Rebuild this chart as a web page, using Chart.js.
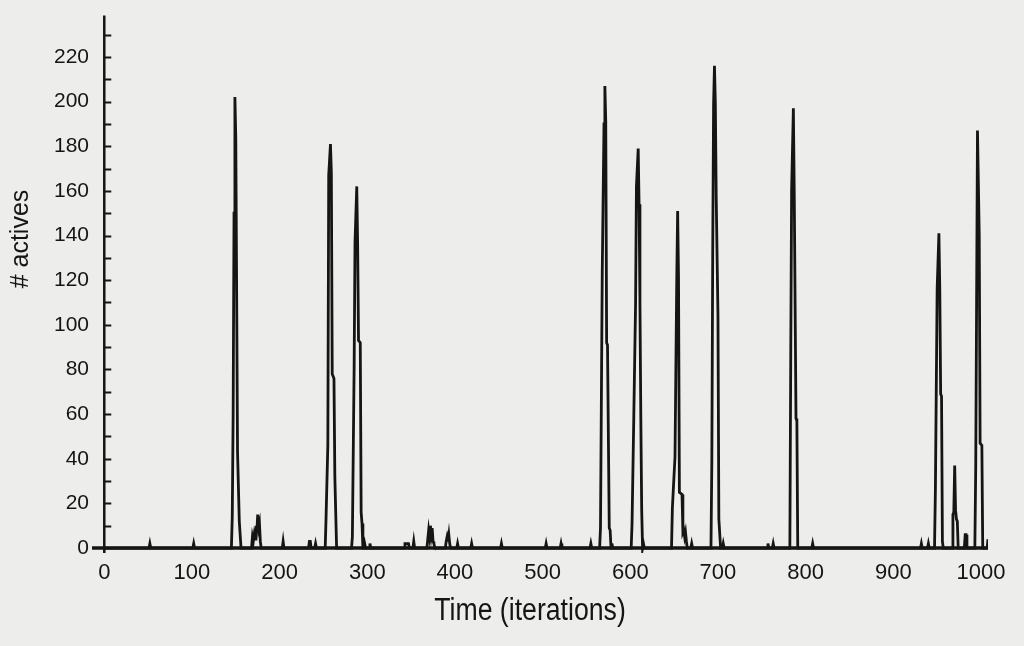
<!DOCTYPE html>
<html>
<head>
<meta charset="utf-8">
<script src="https://cdn.jsdelivr.net/npm/chart.js@4.4.1/dist/chart.umd.min.js"></script>
<style>
  html, body { margin: 0; padding: 0; background: #ededeb; }
  canvas { display: block; }
</style>
</head>
<body>
<canvas id="chart" width="1024" height="646"></canvas>
<script>
// ─────────────────────────────────────────────
// Data: # actives per iteration (only the break points, zeros in between)
// ─────────────────────────────────────────────
const xTickLabels = [0, 100, 200, 300, 400, 500, 600, 700, 800, 900, 1000];
const yTickLabels = [0, 20, 40, 60, 80, 100, 120, 140, 160, 180, 200, 220];
const yTickMarks = [10, 20, 30, 40, 50, 60, 70, 80, 90, 100, 110, 120,
                    130, 140, 150, 160, 170, 180, 190, 200, 210, 220, 230];

const quietStart = [[0, 0], [51, 0], [52, 2], [53, 0], [101, 0], [102, 2], [103, 0]];
const burst149 = [[145, 0], [146, 14], [147, 60], [148, 150], [149, 202], [150, 184], [152, 43], [154, 12], [156, 0]];
const noise175 = [[168, 0], [169, 5], [170, 3], [171, 6], [172, 4], [173, 10], [174, 7], [175, 15], [176, 9], [177, 11], [178, 3], [179, 0],
                  [203, 0], [204, 3], [205, 0], [233, 0], [234, 3], [235, 3], [236, 0], [240, 0], [241, 2], [242, 0]];
const burst258 = [[252, 0], [253, 14], [255, 46], [256, 167], [258, 181], [259, 168], [260, 78], [262, 76], [263, 32], [265, 0]];
const burst288 = [[282, 0], [283, 5], [285, 81], [286, 137], [288, 162], [289, 136], [290, 93], [292, 92], [293, 16], [294, 11], [295, 0],
                  [296, 0], [297, 2], [298, 0], [302, 0], [303, 2], [304, 0]];
const noise370 = [[342, 0], [343, 2], [347, 2], [348, 0], [352, 0], [353, 3], [354, 0],
                  [368, 0], [369, 4], [370, 8], [371, 5], [372, 10], [373, 6], [374, 9], [375, 3], [376, 2], [377, 0],
                  [389, 0], [390, 3], [391, 5], [392, 3], [393, 6], [394, 2], [395, 0],
                  [402, 0], [403, 2], [404, 0], [418, 0], [419, 2], [420, 0], [452, 0], [453, 2], [454, 0],
                  [503, 0], [504, 2], [505, 0], [520, 0], [521, 2], [522, 0], [554, 0], [555, 2], [556, 0]];
const burst571 = [[565, 0], [566, 9], [568, 123], [570, 190], [571, 207], [572, 191], [573, 92], [574, 91], [576, 9], [577, 8], [578, 0],
                  [579, 2], [580, 0]];
const burst609 = [[601, 0], [602, 11], [604, 59], [606, 109], [607, 162], [609, 179], [610, 154], [611, 110], [612, 58], [613, 17], [614, 0],
                  [615, 2], [616, 0]];
const burst654 = [[647, 0], [648, 18], [651, 41], [653, 121], [654, 151], [655, 121], [656, 25], [659, 24], [660, 7], [661, 8],
                  [662, 5], [663, 7], [664, 3], [665, 0], [669, 0], [670, 2], [671, 0]];
const burst696 = [[692, 0], [693, 39], [694, 131], [695, 199], [696, 216], [697, 199], [698, 157], [700, 104], [701, 13], [703, 0],
                  [705, 0], [706, 2], [707, 0], [756, 0], [757, 2], [758, 0], [762, 0], [763, 2], [764, 0]];
const burst786 = [[782, 0], [783, 85], [784, 160], [786, 197], [787, 159], [789, 58], [790, 57], [791, 0],
                  [807, 0], [808, 2], [809, 0], [931, 0], [932, 2], [933, 0], [939, 0], [940, 2], [941, 0]];
const burst952 = [[947, 0], [948, 26], [950, 116], [952, 141], [953, 116], [954, 69], [955, 68], [956, 3], [957, 0]];
const burst970 = [[967, 0], [968, 15], [969, 16], [970, 37], [971, 17], [972, 13], [973, 12], [974, 0],
                  [981, 0], [982, 6], [983, 6], [984, 0]];
const burst996 = [[993, 0], [994, 36], [995, 110], [996, 187], [998, 140], [999, 47], [1001, 46], [1002, 0], [1007, 0], [1008, 4]];

const series = [].concat(quietStart, burst149, noise175, burst258, burst288, noise370, burst571,
                         burst609, burst654, burst696, burst786, burst952, burst970, burst996)
                 .map(p => ({ x: p[0], y: p[1] }));

const ink = '#151515';
const X_MIN = -14, X_MAX = 1008;
const Y_MIN = -2.2, Y_MAX = 238.5;

// axes are drawn by hand: y axis at x = 0, x axis at y = 0, ticks pointing inward
const axesPlugin = {
    id: 'bookAxes',
    beforeDatasetsDraw(chart) {
        const { ctx, scales: { x, y } } = chart;
        const x0 = x.getPixelForValue(0);
        const y0 = y.getPixelForValue(0);
        ctx.save();
        ctx.strokeStyle = ink;

        ctx.lineWidth = 2.5;
        ctx.beginPath();
        ctx.moveTo(x0, y.getPixelForValue(Y_MIN));
        ctx.lineTo(x0, y.getPixelForValue(Y_MAX));
        ctx.stroke();

        ctx.lineWidth = 2;
        ctx.beginPath();
        yTickMarks.forEach(v => {
            const py = Math.round(y.getPixelForValue(v)) + 0.5;
            ctx.moveTo(x0, py);
            ctx.lineTo(x0 + 7, py);
        });
        ctx.stroke();

        ctx.lineWidth = 3.5;
        ctx.beginPath();
        ctx.moveTo(x.getPixelForValue(X_MIN), y0);
        ctx.lineTo(x.getPixelForValue(X_MAX), y0);
        ctx.stroke();
        ctx.restore();
    },
    afterDraw(chart) {
        const { ctx } = chart;
        ctx.save();
        ctx.fillStyle = ink;
        ctx.textAlign = 'center';
        ctx.textBaseline = 'middle';

        ctx.font = '25px "Liberation Sans", Arial, sans-serif';
        ctx.translate(21, 239);
        ctx.rotate(-Math.PI / 2);
        ctx.fillText('# actives', 0, 0);
        ctx.setTransform(1, 0, 0, 1, 0, 0);

        // condensed title, like the book's typeface
        ctx.font = '31px "Liberation Sans", Arial, sans-serif';
        ctx.translate(530, 611);
        ctx.scale(0.86, 1);
        ctx.fillText('Time (iterations)', 0, 0);
        ctx.restore();
    }
};

new Chart(document.getElementById('chart'), {
    type: 'scatter',
    data: {
        datasets: [{
            data: series,
            showLine: true,
            borderColor: ink,
            borderWidth: 2.8,
            pointRadius: 0,
            tension: 0,
            fill: false
        }]
    },
    options: {
        responsive: false,
        animation: false,
        devicePixelRatio: 1,
        layout: { padding: { left: 0, right: 36, top: 15, bottom: 0 } },
        plugins: {
            legend: { display: false },
            tooltip: { enabled: false }
        },
        scales: {
            x: {
                type: 'linear',
                min: X_MIN,
                max: X_MAX,
                grid: { display: false, drawTicks: false },
                border: { display: false },
                afterBuildTicks: s => { s.ticks = xTickLabels.map(v => ({ value: v })); },
                afterFit: s => { s.height = 93; },
                ticks: {
                    autoSkip: false,
                    maxRotation: 0,
                    padding: 7,
                    color: ink,
                    callback: v => String(v),
                    font: { family: '"Liberation Sans", Arial, sans-serif', size: 22 }
                }
            },
            y: {
                type: 'linear',
                min: Y_MIN,
                max: Y_MAX,
                grid: { display: false, drawTicks: false },
                border: { display: false },
                afterBuildTicks: s => { s.ticks = yTickLabels.map(v => ({ value: v })); },
                afterFit: s => { s.width = 92; },
                ticks: {
                    padding: 3,
                    color: ink,
                    callback: v => String(v),
                    font: { family: '"Liberation Sans", Arial, sans-serif', size: 21 }
                }
            }
        }
    },
    plugins: [axesPlugin]
});
</script>
</body>
</html>
